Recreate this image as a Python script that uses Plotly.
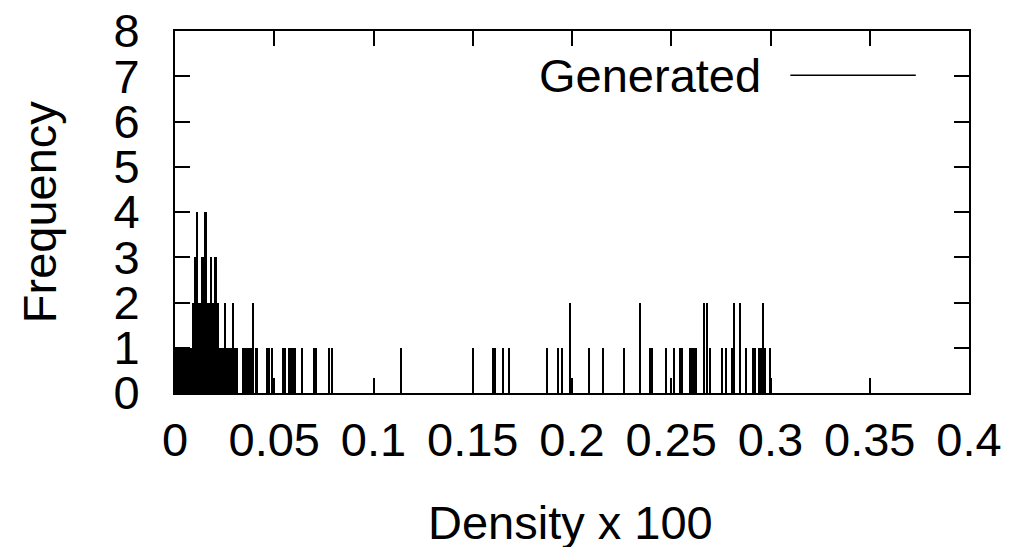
import plotly.graph_objects as go

# Density x 100 values (impulse positions) and their frequencies
density = [
    0.0003, 0.0010, 0.0018, 0.0025, 0.0033, 0.0040, 0.0048, 0.0055, 0.0063, 0.0071,
    0.0078, 0.0086, 0.0090, 0.0096, 0.0101, 0.0106, 0.0112, 0.0118, 0.0126, 0.0131,
    0.0137, 0.0144, 0.0151, 0.0157, 0.0164, 0.0170, 0.0176, 0.0182, 0.0189, 0.0195,
    0.0201, 0.0209, 0.0217, 0.0224, 0.0232, 0.0239, 0.0247, 0.0254, 0.0262, 0.0270,
    0.0277, 0.0285, 0.0292, 0.0300, 0.0307, 0.0313,
    0.0344, 0.0350, 0.0360, 0.0367, 0.0377, 0.0384, 0.0394, 0.0406, 0.0414,
    0.0464, 0.0473, 0.0489, 0.0544, 0.0553, 0.0573, 0.0580, 0.0587, 0.0597, 0.0607,
    0.0640, 0.0699, 0.0709, 0.0776, 0.0791,
    0.1141, 0.1501, 0.1601, 0.1611, 0.1651, 0.1681, 0.1872, 0.1932, 0.1952, 0.1992,
    0.2084, 0.2155, 0.2261, 0.2345, 0.2393, 0.2403, 0.2475, 0.2513, 0.2543, 0.2553,
    0.2593, 0.2603, 0.2614, 0.2625, 0.2664, 0.2683, 0.2694, 0.2754, 0.2774, 0.2805,
    0.2815, 0.2845, 0.2875, 0.2914, 0.2924, 0.2944, 0.2954, 0.2964, 0.2974, 0.2996,
]
frequency = [
    1, 1, 1, 1, 1, 1, 1, 1, 1, 1,
    1, 1, 2, 2, 3, 3, 4, 2, 2, 2,
    3, 3, 4, 4, 2, 2, 2, 3, 2, 2,
    3, 3, 2, 1, 1, 1, 1, 2, 1, 1,
    1, 1, 2, 1, 1, 1,
    1, 1, 1, 1, 1, 1, 2, 1, 1,
    1, 1, 1, 1, 1, 1, 1, 1, 1, 1,
    1, 1, 1, 1, 1,
    1, 1, 1, 1, 1, 1, 1, 1, 1, 2,
    1, 1, 1, 2, 1, 1, 1, 1, 1, 1,
    1, 1, 1, 1, 2, 2, 1, 1, 1, 1,
    2, 2, 1, 1, 1, 1, 1, 2, 1, 1,
]

x_ticks = [0, 0.05, 0.1, 0.15, 0.2, 0.25, 0.3, 0.35, 0.4]
x_tick_labels = ["0", "0.05", "0.1", "0.15", "0.2", "0.25", "0.3", "0.35", "0.4"]
y_ticks = [0, 1, 2, 3, 4, 5, 6, 7, 8]

FONT = "Liberation Sans, Arial, sans-serif"
FS = 47

fig = go.Figure()
fig.add_trace(go.Bar(
    x=density, y=frequency, width=0.0006,
    marker=dict(color="black", line=dict(width=0)),
    showlegend=False,
))

axis_common = dict(
    showline=True, linecolor="black", linewidth=2, mirror="allticks",
    ticks="inside", ticklen=15, tickwidth=1.5, tickcolor="black",
    showgrid=False, zeroline=False, automargin=False, ticklabeloverflow="allow",
    tickfont=dict(family=FONT, size=FS, color="black"),
)

fig.update_xaxes(range=[0, 0.4], tickvals=x_ticks, ticktext=x_tick_labels,
                 ticklabelstandoff=5, **axis_common)
fig.update_yaxes(range=[0, 8], tickvals=y_ticks, ticklabelstandoff=24, **axis_common)

# Legend (gnuplot style: label then line sample)
fig.add_annotation(text="Generated", xref="paper", yref="paper", x=0.740, y=0.878,
                   xanchor="right", yanchor="middle", showarrow=False,
                   font=dict(family=FONT, size=FS, color="black"))
fig.add_shape(type="line", xref="paper", yref="paper", x0=0.775, x1=0.933, y0=0.878, y1=0.878,
              line=dict(color="black", width=1.5))

# Axis titles
fig.add_annotation(text="Density x 100", xref="paper", yref="paper", x=0.498, y=-0.357,
                   xanchor="center", yanchor="middle", showarrow=False,
                   font=dict(family=FONT, size=FS, color="black"))
fig.add_annotation(text="Frequency", xref="paper", yref="paper", x=-0.171, y=0.5,
                   xanchor="center", yanchor="middle", showarrow=False, textangle=-90,
                   font=dict(family=FONT, size=FS, color="black"))

fig.update_layout(
    width=1011, height=539,
    margin=dict(l=167, r=50, t=23, b=154),
    plot_bgcolor="white", paper_bgcolor="white",
    bargap=0,
)

fig.write_html("out.html")
